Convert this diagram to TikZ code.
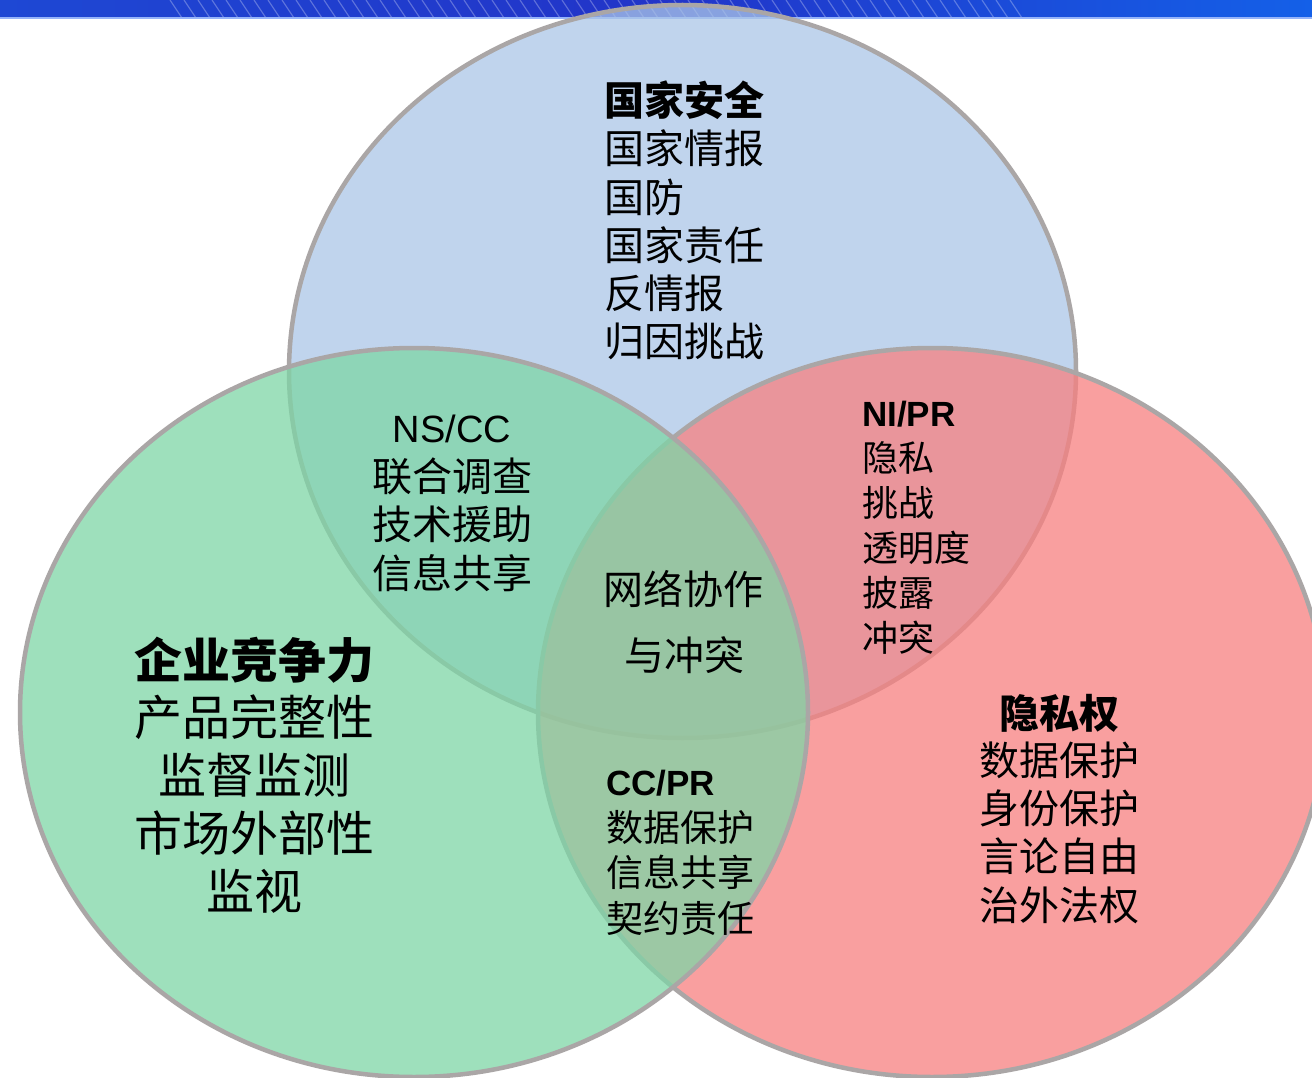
\documentclass[tikz,border=0pt]{standalone}
\usepackage{fontspec}
\setmainfont{Liberation Sans}
\newfontfamily\cjk{Noto Sans CJK SC}
\definecolor{ringgray}{RGB}{170,166,166}
\definecolor{blueF}{RGB}{171,198,232}
\definecolor{greenF}{RGB}{126,214,166}
\definecolor{redF}{RGB}{248,128,128}
\definecolor{banL}{RGB}{30,72,212}
\definecolor{banM}{RGB}{34,52,200}
\definecolor{banR}{RGB}{20,96,232}
\definecolor{banLine}{RGB}{150,180,250}
\begin{document}
\begin{tikzpicture}[x=1pt,y=-1pt,
  ring/.style={draw=ringgray, line width=4.5pt, fill opacity=0.75},
  lbl/.style={inner sep=0pt, text=black},
  zh40/.style={lbl, font=\cjk\fontsize{40}{48}\selectfont},
  zh40b/.style={lbl, font=\cjk\bfseries\fontsize{40}{48}\selectfont},
  zh36/.style={lbl, font=\cjk\fontsize{36}{44}\selectfont},
  zh37/.style={lbl, font=\cjk\fontsize{37}{44}\selectfont},
  zh48/.style={lbl, font=\cjk\fontsize{48}{58}\selectfont},
  zh48b/.style={lbl, font=\cjk\bfseries\fontsize{48}{58}\selectfont},
  en38/.style={lbl, font=\fontsize{38}{44}\selectfont},
  en35b/.style={lbl, font=\bfseries\fontsize{35}{42}\selectfont}]
\useasboundingbox (0,0) rectangle (1312,1078);
\clip (0,0) rectangle (1312,1078);
\fill[white] (0,0) rectangle (1312,1078);
% banner
\shade[left color=banL, right color=banR, middle color=banM] (0,0) rectangle (1312,18);
\foreach \x in {170,184,...,1010} {
  \draw[white, opacity=0.28, line width=1.2pt] (\x,0) -- (\x+12,18);
}
\fill[banLine] (0,17.5) rectangle (1312,19);
% circles
\path[ring, fill=blueF] (682.5,371.5) ellipse [x radius=393.5, y radius=366.5];
\path[ring, fill=redF] (932,712.5) ellipse [x radius=394, y radius=364.5];
\path[ring, fill=greenF] (414,712.5) ellipse [x radius=394, y radius=364.5];
% national security
\node[zh40b, anchor=base west] (ns0) at (604.5,115.7) {国家安全};
\foreach \t [count=\i] in {国家情报,国防,国家责任,反情报,归因挑战} {
  \node[zh40, anchor=base west] (ns\i) at (604.5,{115.7+48.2*\i}) {\t};
}
% NS/CC
\node[en38, anchor=base] (nscc0) at (452,442) {NS/CC};
\foreach \t [count=\i] in {联合调查,技术援助,信息共享} {
  \node[zh40, anchor=base] (nscc\i) at (452,{443.5+48.2*\i}) {\t};
}
% center
\node[zh40, anchor=base] (c1) at (683,604.7) {网络协作};
\node[zh40, anchor=base] (c2) at (684.7,670.7) {与冲突};
% NI/PR
\node[en35b, anchor=base west] (nipr0) at (862,426.5) {NI/PR};
\foreach \t [count=\i] in {隐私,挑战,透明度,披露,冲突} {
  \node[zh36, anchor=base west] (nipr\i) at (862.5,{426.7+45*\i}) {\t};
}
% corporate competitiveness
\node[zh48b, anchor=base] (cc0) at (254,678.2) {企业竞争力};
\foreach \t [count=\i] in {产品完整性,监督监测,市场外部性,监视} {
  \node[zh48, anchor=base] (cc\i) at (254,{678.2+57.7*\i}) {\t};
}
% CC/PR
\node[en35b, anchor=base west] (ccpr0) at (606,795) {CC/PR};
\foreach \t [count=\i] in {数据保护,信息共享,契约责任} {
  \node[zh37, anchor=base west] (ccpr\i) at (606.5,{796.5+45.2*\i}) {\t};
}
% privacy
\node[zh40b, anchor=base] (pr0) at (1059.5,728.7) {隐私权};
\foreach \t [count=\i] in {数据保护,身份保护,言论自由,治外法权} {
  \node[zh40, anchor=base] (pr\i) at (1059.5,{727.6+48.1*\i}) {\t};
}
\end{tikzpicture}
\end{document}
